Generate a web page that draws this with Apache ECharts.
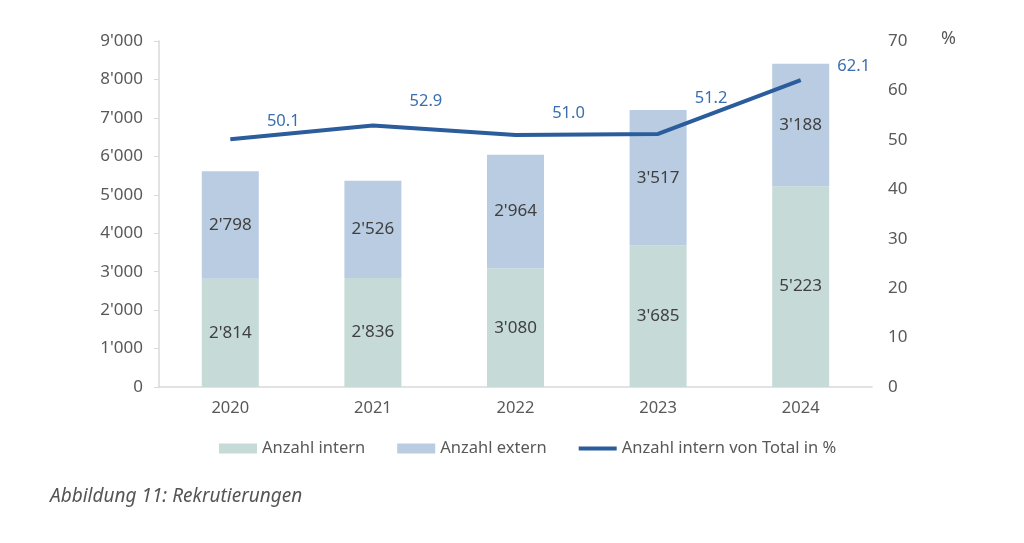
<!DOCTYPE html>
<html>
<head>
<meta charset="utf-8">
<script src="https://cdn.jsdelivr.net/npm/echarts@6/dist/echarts.min.js"></script>
<style>
html,body{margin:0;padding:0;background:#fff;}
#chart{width:1024px;height:543px;}
</style>
</head>
<body>
<div id="chart"></div>
<script>
var categories = ['2020', '2021', '2022', '2023', '2024'];
var intern = [2814, 2836, 3080, 3685, 5223];
var extern = [2798, 2526, 2964, 3517, 3188];
var internPct = [50.1, 52.9, 51.0, 51.2, 62.1];
var seriesNames = ['Anzahl intern', 'Anzahl extern', 'Anzahl intern von Total in %'];
var caption = 'Abbildung 11: Rekrutierungen';

// label placement (styling only, in pixels)
var pctLabelOffsetY = [-9, -15, -13, -27, -5];

function fmt(v) {
  return String(Math.round(v)).replace(/\B(?=(\d{3})+(?!\d))/g, "'");
}

var FONT = '"Noto Sans", "Open Sans", sans-serif';
var TXT = '#595959';
var LINE = '#2b5c9c';

var lineData = internPct.map(function (v, i) {
  return {value: v, label: {offset: [53, pctLabelOffsetY[i]]}};
});

var chart = echarts.init(document.getElementById('chart'), null, {renderer: 'canvas'});
chart.setOption({
  backgroundColor: '#ffffff',
  animation: false,
  textStyle: {fontFamily: FONT},
  grid: {left: 159, right: 152, top: 41, bottom: 156, containLabel: false},
  legend: {
    left: 219,
    top: 440,
    padding: 0,
    itemWidth: 38,
    itemHeight: 10,
    itemGap: 32,
    textStyle: {fontFamily: FONT, fontSize: 16.5, color: TXT},
    data: [
      {name: seriesNames[0], icon: 'rect'},
      {name: seriesNames[1], icon: 'rect'},
      {name: seriesNames[2], icon: 'path://M0,0 L0.01,0 L0,0 Z M0,3 L40,3 L40,7 L0,7 Z M0,10 L0.01,10 L0,10 Z',
        itemStyle: {color: LINE, opacity: 1, borderWidth: 0}}
    ]
  },
  xAxis: {
    type: 'category',
    data: categories,
    axisLine: {lineStyle: {color: '#d9d9d9', width: 1.5}},
    axisTick: {show: false},
    axisLabel: {color: TXT, fontSize: 16.5, fontFamily: FONT, margin: 13}
  },
  yAxis: [
    {
      type: 'value', min: 0, max: 9000, interval: 1000,
      axisLine: {show: true, lineStyle: {color: '#d9d9d9', width: 1.5}},
      axisTick: {show: true, length: 5, lineStyle: {color: '#d9d9d9'}},
      splitLine: {show: false},
      axisLabel: {color: TXT, fontSize: 17, fontFamily: FONT, margin: 16, formatter: fmt}
    },
    {
      type: 'value', min: 0, max: 70, interval: 10, position: 'right',
      axisLine: {show: false},
      axisTick: {show: false},
      splitLine: {show: false},
      axisLabel: {color: TXT, fontSize: 17, fontFamily: FONT, margin: 16}
    }
  ],
  series: [
    {
      name: seriesNames[0], type: 'bar', stack: 'total', data: intern,
      barWidth: 57,
      itemStyle: {color: '#c6dad8'},
      label: {show: true, position: 'inside', color: '#404040', fontSize: 17, fontFamily: FONT, formatter: function (p) { return fmt(p.value); }}
    },
    {
      name: seriesNames[1], type: 'bar', stack: 'total', data: extern,
      barWidth: 57,
      itemStyle: {color: '#b9cce2'},
      label: {show: true, position: 'inside', color: '#404040', fontSize: 17, fontFamily: FONT, formatter: function (p) { return fmt(p.value); }}
    },
    {
      name: seriesNames[2], type: 'line', yAxisIndex: 1, data: lineData,
      symbol: 'circle', symbolSize: 1, showSymbol: true,
      lineStyle: {color: LINE, width: 4},
      itemStyle: {color: 'rgba(0,0,0,0)', borderWidth: 0},
      label: {show: true, position: 'top', distance: 0, color: '#3a6eae', fontSize: 16.5, fontFamily: FONT,
        formatter: function (p) { return p.value.toFixed(1); }},
      z: 5
    }
  ],
  graphic: [
    {type: 'text', left: 941, top: 30, style: {text: '%', fill: TXT, fontSize: 18, fontFamily: FONT}},
    {type: 'text', left: 50, top: 487, style: {text: caption, fill: '#555555', fontSize: 19, fontStyle: 'italic', fontFamily: FONT}}
  ]
});
</script>
</body>
</html>
